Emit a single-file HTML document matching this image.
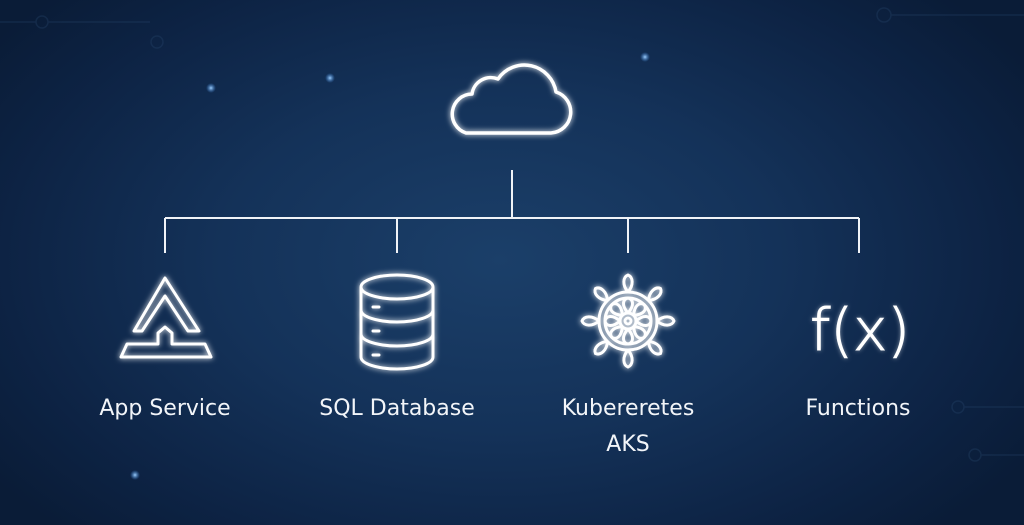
<!DOCTYPE html>
<html><head><meta charset="utf-8"><style>
html,body{margin:0;padding:0;width:1024px;height:525px;overflow:hidden}
body{background:radial-gradient(ellipse 620px 380px at 500px 260px,#1b3f69 0%,#143259 45%,#0d2344 80%,#0a1c37 100%);font-family:"DejaVu Sans","Liberation Sans",sans-serif}
svg{position:absolute;left:0;top:0}
.lbl{position:absolute;color:#f2f5f9;font-size:22px;text-align:center;width:240px;line-height:36px}
</style></head><body>
<svg width="1024" height="525" viewBox="0 0 1024 525">
<defs>
<filter id="g" x="-30%" y="-30%" width="160%" height="160%"><feGaussianBlur stdDeviation="3" result="b"/><feMerge><feMergeNode in="b"/><feMergeNode in="SourceGraphic"/></feMerge></filter>
<filter id="g2" x="-30%" y="-30%" width="160%" height="160%"><feGaussianBlur stdDeviation="2" result="b"/><feComponentTransfer in="b" result="c"><feFuncA type="linear" slope="0.5"/></feComponentTransfer><feMerge><feMergeNode in="c"/><feMergeNode in="SourceGraphic"/></feMerge></filter>
<radialGradient id="dot"><stop offset="0" stop-color="#9fd0ff"/><stop offset="1" stop-color="#3a7fd0" stop-opacity="0"/></radialGradient>
</defs>
<g stroke="#2a4a70" stroke-width="1.5" fill="none" opacity="0.3">
<circle cx="42" cy="22" r="6"/><line x1="0" y1="22" x2="36" y2="22"/><line x1="48" y1="22" x2="150" y2="22"/><circle cx="157" cy="42" r="6"/>
<circle cx="884" cy="15" r="7"/><line x1="891" y1="15" x2="1024" y2="15"/>
<circle cx="958" cy="407" r="6"/><line x1="964" y1="407" x2="1024" y2="407"/><circle cx="975" cy="455" r="6"/><line x1="981" y1="455" x2="1024" y2="455"/>
</g>
<g fill="url(#dot)"><circle cx="211" cy="88" r="5"/><circle cx="330" cy="78" r="5"/><circle cx="645" cy="57" r="5"/><circle cx="135" cy="475" r="5"/></g>
<g stroke="#fff" fill="none" stroke-width="3.5" stroke-linejoin="round" stroke-linecap="round" filter="url(#g)">
<path d="M466 133 H551 A21 21 0 0 0 556 92 A32 32 0 0 0 498 79 A19 19 0 0 0 472 94 A20 20 0 0 0 466 133 Z"/>
</g>
<g stroke="#f0f3f7" stroke-width="2" fill="none">
<line x1="512" y1="170" x2="512" y2="218"/>
<line x1="165" y1="218" x2="859" y2="218"/>
<line x1="165" y1="218" x2="165" y2="253"/><line x1="397" y1="218" x2="397" y2="253"/>
<line x1="628" y1="218" x2="628" y2="253"/><line x1="859" y1="218" x2="859" y2="253"/>
</g>
<g stroke="#fff" fill="none" stroke-width="3" stroke-linejoin="round" filter="url(#g)">
<path d="M165 278 L199 331 L188 331 L165 296 L142 331 L134 331 Z"/>
<path d="M158 344 V333 L165 327 L172 333 V344 H205 L211 357 H121 L127 344 Z"/>
<ellipse cx="397" cy="287" rx="36" ry="12"/>
<path d="M361 287 V357 A36 12 0 0 0 433 357 V287"/>
<path d="M361 310 A36 12 0 0 0 433 310 M361 334 A36 12 0 0 0 433 334"/>
<path d="M373 307 H379 M373 331 H379 M373 355 H379" stroke-linecap="round"/>
<circle cx="628" cy="321" r="29"/><circle cx="628" cy="321" r="23"/><circle cx="628" cy="321" r="8"/><circle cx="628" cy="321" r="3"/>
<g id="sp"><path d="M628 313 C621 305 623 299 628 298 C633 299 635 305 628 313"/><path d="M628 292 C622 285 623 277 628 275 C633 277 634 285 628 292"/></g>
<use href="#sp" transform="rotate(45 628 321)"/><use href="#sp" transform="rotate(90 628 321)"/><use href="#sp" transform="rotate(135 628 321)"/>
<use href="#sp" transform="rotate(180 628 321)"/><use href="#sp" transform="rotate(225 628 321)"/><use href="#sp" transform="rotate(270 628 321)"/><use href="#sp" transform="rotate(315 628 321)"/>
</g>
<text x="860" y="350" fill="#fff" font-family="DejaVu Sans, Liberation Sans, sans-serif" font-weight="200" font-size="58" text-anchor="middle" stroke="#fff" stroke-width="1" filter="url(#g2)">f(x)</text>
</svg>
<div class="lbl" style="left:45px;top:391px">App Service</div>
<div class="lbl" style="left:277px;top:391px">SQL Database</div>
<div class="lbl" style="left:508px;top:391px">Kubereretes<br>AKS</div>
<div class="lbl" style="left:738px;top:391px">Functions</div>
</body></html>
